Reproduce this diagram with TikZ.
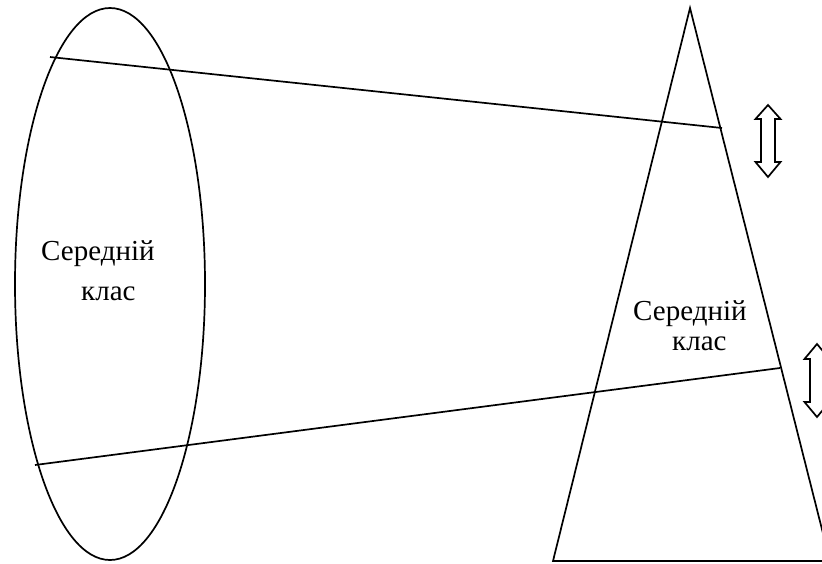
\documentclass[tikz,border=0pt]{standalone}
\usepackage{fontspec}
\setmainfont{Liberation Serif}
\begin{document}
\begin{tikzpicture}[x=1pt,y=-1pt,
  shapeline/.style={draw=black,line width=1.7pt},
  arrowshape/.style={draw=black,line width=1.7pt,fill=white,line join=miter},
  lbl/.style={inner sep=0pt,anchor=base west,font=\fontsize{29}{29}\selectfont}]
\useasboundingbox (0,0) rectangle (822,563);
\clip (0,0) rectangle (822,563);
% ellipse
\draw[shapeline] (110,284) ellipse [x radius=95, y radius=276];
% triangle
\coordinate (apex) at (690,8);
\coordinate (bl) at (553,561);
\coordinate (br) at (830,561);
\draw[shapeline,line join=miter] (apex) -- (bl) -- (br) -- cycle;
% lines
\coordinate (a1) at (50,57);
\coordinate (b1) at (722,128);
\coordinate (a2) at (35,465);
\coordinate (b2) at (780,368);
\draw[shapeline] (a1) -- (b1);
\draw[shapeline] (a2) -- (b2);
% arrows
\draw[arrowshape]
  (768,105) -- (780.5,119) -- (775,119) -- (775,162) -- (780.5,162) -- (768,177)
  -- (755.5,162) -- (761,162) -- (761,119) -- (755.5,119) -- cycle;
\draw[arrowshape]
  (817,344) -- (829.5,359) -- (824,359) -- (824,402) -- (829.5,402) -- (817,417)
  -- (804.5,402) -- (810,402) -- (810,359) -- (804.5,359) -- cycle;
% labels
\node[lbl] (l1) at (41,260) {Середній};
\node[lbl] (l2) at (81,300) {клас};
\node[lbl] (r1) at (633,320) {Середній};
\node[lbl] (r2) at (672,350) {клас};
\end{tikzpicture}
\end{document}
